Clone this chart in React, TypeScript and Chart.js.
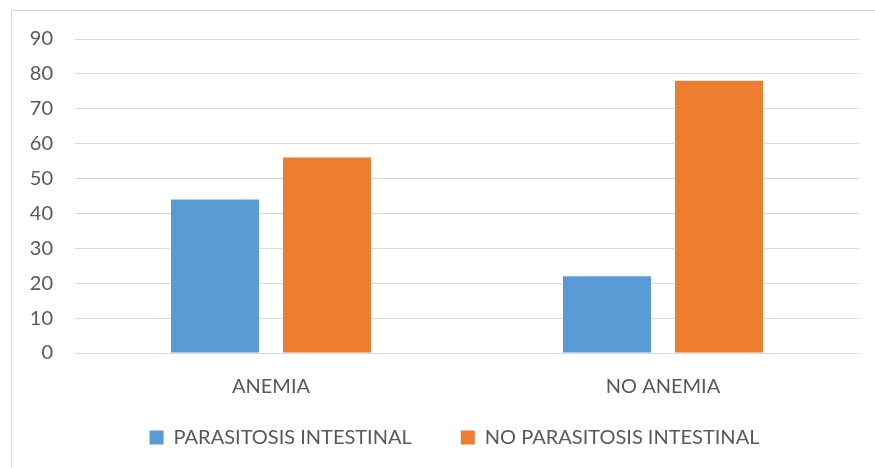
import React, { useEffect, useRef } from "react";
import { Chart, registerables } from "chart.js";

Chart.register(...registerables);

const categories = ["ANEMIA", "NO ANEMIA"];
const seriesNames = ["PARASITOSIS INTESTINAL", "NO PARASITOSIS INTESTINAL"];
const parasitosis = [44, 22];
const noParasitosis = [56, 78];
const yTicks = [0, 10, 20, 30, 40, 50, 60, 70, 80, 90];

const FONT = "Lato, 'Liberation Sans', Arial, sans-serif";
const FONT_SIZE = 20;
const TEXT = "#595959";
const GRID = "#d9d9d9";

const borderPlugin = {
  id: "outerBorder",
  beforeDraw(chart: any) {
    const ctx = chart.ctx;
    ctx.save();
    ctx.fillStyle = "#ffffff";
    ctx.fillRect(0, 0, chart.width, chart.height);
    ctx.strokeStyle = GRID;
    ctx.lineWidth = 1;
    ctx.strokeRect(11.5, 10.5, chart.width + 50, chart.height + 50);
    ctx.restore();
  },
};

// move the legend box to where the reference puts it
const legendShift = {
  id: "legendShift",
  afterLayout(chart: any) {
    const lg = chart.legend;
    if (!lg) return;
    const dx = 19.5;
    const dy = -20.5;
    lg.left += dx;
    lg.right += dx;
    lg.top += dy;
    lg.bottom += dy;
  },
};

export default function App() {
  const ref = useRef<HTMLCanvasElement>(null);
  useEffect(() => {
    if (!ref.current) return;
    const chart = new Chart(ref.current, {
      type: "bar",
      data: {
        labels: categories,
        datasets: [
          {
            label: seriesNames[0],
            data: parasitosis,
            backgroundColor: "#5B9BD5",
            categoryPercentage: 0.5714,
            barPercentage: 0.7857,
          },
          {
            label: seriesNames[1],
            data: noParasitosis,
            backgroundColor: "#ED7D31",
            categoryPercentage: 0.5714,
            barPercentage: 0.7857,
          },
        ],
      },
      options: {
        animation: false,
        responsive: true,
        maintainAspectRatio: false,
        layout: { padding: { left: 11, right: 16, top: 39, bottom: -10 } },
        scales: {
          x: {
            grid: { display: false, drawTicks: false },
            border: { display: false },
            ticks: { color: TEXT, font: { family: FONT, size: FONT_SIZE }, padding: 22 },
            afterFit: (s: any) => {
              s.height = 46;
            },
          },
          y: {
            min: 0,
            max: 90,
            afterBuildTicks: (s: any) => {
              s.ticks = yTicks.map((v) => ({ value: v }));
            },
            grid: { color: GRID, lineWidth: 1, drawTicks: false },
            border: { display: false },
            ticks: {
              color: TEXT,
              font: { family: FONT, size: FONT_SIZE },
              padding: 22,
              autoSkip: false,
            },
            afterFit: (s: any) => {
              s.width = 64;
            },
          },
        },
        plugins: {
          legend: {
            position: "bottom",
            labels: {
              color: TEXT,
              font: { family: FONT, size: FONT_SIZE },
              boxWidth: 14,
              boxHeight: 14,
              padding: 49,
            },
          },
          tooltip: { enabled: false },
        },
      },
      plugins: [borderPlugin, legendShift],
    });
    return () => chart.destroy();
  }, []);
  return (
    <div style={{ position: "absolute", left: 0, top: 0, width: 875, height: 468 }}>
      <canvas ref={ref} />
    </div>
  );
}
